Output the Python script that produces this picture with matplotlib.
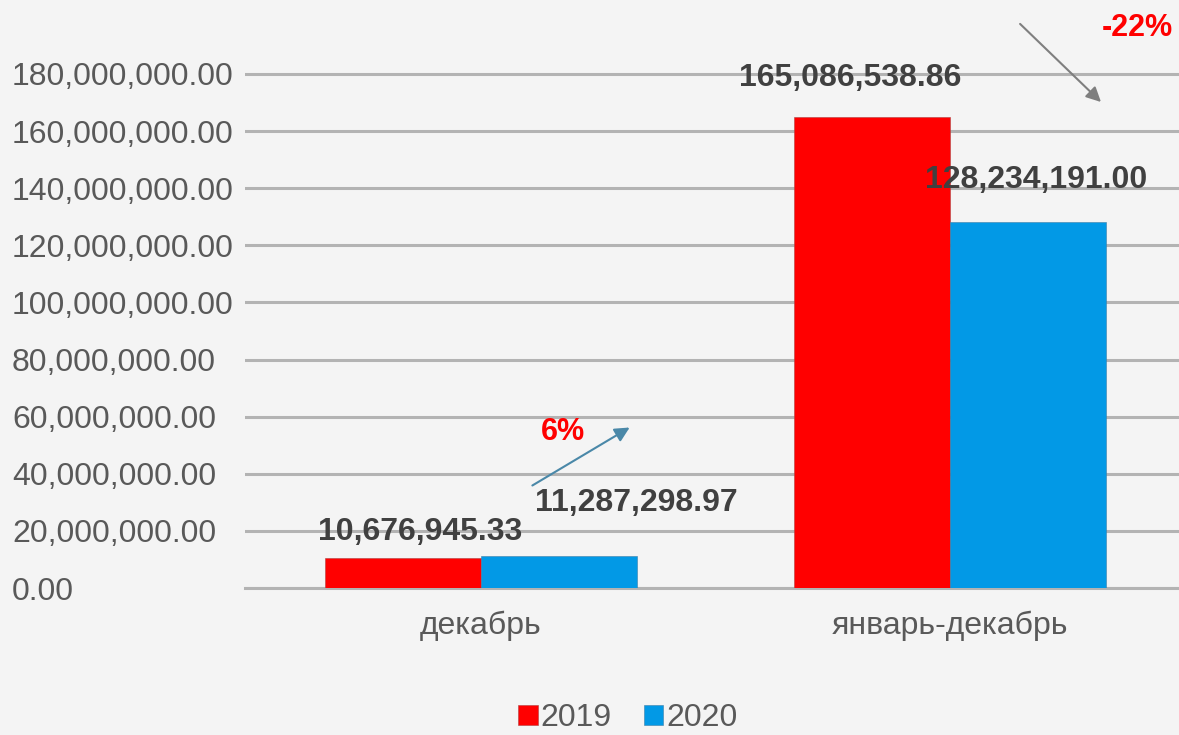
import numpy as np
import matplotlib.pyplot as plt

plt.rcParams['font.family'] = ['Liberation Sans', 'DejaVu Sans']

# Data
categories = ['декабрь', 'январь-декабрь']
years = ['2019', '2020']
vals_2019 = [10676945.33, 165086538.86]
vals_2020 = [11287298.97, 128234191.00]
yticks = np.arange(0, 180000001, 20000000)

colors = ['#ff0000', '#0299e6']
bg = '#f4f4f4'

fig = plt.figure(figsize=(11.79, 7.35), dpi=100, facecolor=bg)
ax = fig.add_axes([245/1179, 0.2, 1 - 245/1179, 0.8])
ax.set_facecolor(bg)

x = np.arange(len(categories))
w = 0.3327
b1 = ax.bar(x - w/2, vals_2019, w, color=colors[0], label=years[0],
            edgecolor='#b04040', linewidth=0.4, zorder=3)
b2 = ax.bar(x + w/2, vals_2020, w, color=colors[1], label=years[1],
            edgecolor='#3d7fa8', linewidth=0.4, zorder=3)

ax.set_xlim(-0.503, 1.488)
ax.set_ylim(0, 205.9e6)
ax.set_yticks(yticks)
ax.set_yticklabels(['{:,.2f}'.format(v) for v in yticks])
ax.set_xticks(x)
ax.set_xticklabels(categories)
ax.grid(axis='y', color='#b3b3b3', linewidth=2.2, zorder=0)
ax.axhline(0, color='#b3b3b3', linewidth=2.2, zorder=0, clip_on=False)
for s in ax.spines.values():
    s.set_visible(False)
# left-aligned tick labels starting near the figure edge
ax.tick_params(axis='y', length=0, pad=233 * 0.72, labelsize=23, labelcolor='#595959')
for lbl in ax.get_yticklabels():
    lbl.set_horizontalalignment('left')
ax.tick_params(axis='x', length=0, pad=16, labelsize=23, labelcolor='#595959')

# value labels (pixel offsets from bar tops)
offs = [[(17, 26), (-22, 39)], [(77, 53), (8, 42)]]
for si, (bars, vals) in enumerate([(b1, vals_2019), (b2, vals_2020)]):
    for i, (bar, v) in enumerate(zip(bars, vals)):
        dx, dy = offs[si][i]
        ax.annotate('{:,.2f}'.format(v),
                    xy=(bar.get_x() + bar.get_width()/2, v),
                    xytext=(dx, dy), textcoords='offset pixels',
                    ha='center', va='center', fontsize=23,
                    fontweight='bold', color='#404040', zorder=4)

# change arrows
ax.annotate('', xy=(0.322, 56.7e6), xytext=(0.1045, 35.4e6),
            arrowprops=dict(arrowstyle='-|>', color='#4a88a8', lw=1.5,
                            mutation_scale=22), annotation_clip=False)
ax.text(0.175, 54.6e6, '6%', color='#ff0000', fontsize=22, fontweight='bold',
        ha='center', va='center')
ax.annotate('', xy=(1.326, 169.5e6), xytext=(1.145, 198.2e6),
            arrowprops=dict(arrowstyle='-|>', color='#7f7f7f', lw=1.5,
                            mutation_scale=22), annotation_clip=False)
ax.text(1.399, 196.1e6, '-22%', color='#ff0000', fontsize=22, fontweight='bold',
        ha='center', va='center', clip_on=False)

fig.legend(loc='center', bbox_to_anchor=(628/1179, 1 - 718/735), ncol=2,
           frameon=False, fontsize=23, handlelength=0.6, handleheight=0.6,
           handletextpad=0.1, columnspacing=1.0, labelcolor='#595959')

fig.savefig('out.png', dpi=100, facecolor=bg)
